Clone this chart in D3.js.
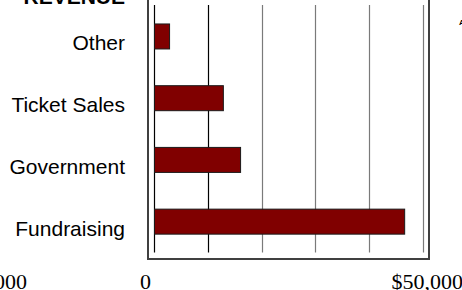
<!DOCTYPE html>
<html>
<head>
<meta charset="utf-8">
<script src="https://cdn.jsdelivr.net/npm/d3@7"></script>
<style>
  html, body { margin: 0; padding: 0; background: #fff; }
  svg { display: block; }
</style>
</head>
<body>
<svg id="chart" width="462" height="290"></svg>
<script>
// ---- data ----
const categories = ["Other", "Ticket Sales", "Government", "Fundraising"];
const values = [2800, 12800, 16000, 46500];
const tickValues = [0, 10000, 20000, 30000, 40000, 50000];
const axisLabels = ["0", "$50,000"];
const sectionTitle = "REVENUE";

const svg = d3.select("#chart");

const x = d3.scaleLinear().domain([0, 50000]).range([154, 423]);
const y = d3.scaleBand().domain(categories).range([5.6, 252.5])
  .paddingInner(0.595).paddingOuter(0.2975);

const sans = "'Liberation Sans', Arial, Helvetica, sans-serif";
const serif = "'Liberation Serif', 'Times New Roman', serif";

// frame
svg.append("rect")
  .attr("x", x.range()[0] - 6)
  .attr("y", -20)
  .attr("width", x.range()[1] - x.range()[0] + 12)
  .attr("height", 259 + 20 - 0)
  .attr("fill", "none")
  .attr("stroke", "#404040")
  .attr("stroke-width", 2);

// gridlines
svg.append("g").selectAll("line")
  .data(tickValues)
  .join("line")
  .attr("x1", d => Math.round(x(d)) + 0.5)
  .attr("x2", d => Math.round(x(d)) + 0.5)
  .attr("y1", y.range()[0] - 0.6)
  .attr("y2", y.range()[1])
  .attr("stroke", (d, i) => i < 2 ? "#000" : "#7a7a7a")
  .attr("stroke-width", 1.2);

// bars
svg.append("g").selectAll("rect")
  .data(categories.map((c, i) => ({ c, v: values[i] })))
  .join("rect")
  .attr("x", x(0) + 0.5)
  .attr("y", d => y(d.c))
  .attr("width", d => x(d.v) - x(0))
  .attr("height", y.bandwidth())
  .attr("fill", "#800000")
  .attr("stroke", "#1a1a1a")
  .attr("stroke-width", 1);

// category labels
svg.append("g").selectAll("text")
  .data(categories)
  .join("text")
  .attr("x", 125)
  .attr("y", d => y(d) + y.bandwidth() / 2 + 14)
  .attr("text-anchor", "end")
  .attr("font-family", sans)
  .attr("font-size", 21)
  .attr("fill", "#000")
  .text(d => d);

// section title (cut off at top)
svg.append("text")
  .attr("x", 125)
  .attr("y", 4)
  .attr("text-anchor", "end")
  .attr("font-family", sans)
  .attr("font-weight", "bold")
  .attr("font-size", 21)
  .text(sectionTitle);

// axis end labels
svg.append("text")
  .attr("x", x(0) - 14)
  .attr("y", 289)
  .attr("text-anchor", "start")
  .attr("font-family", serif)
  .attr("font-size", 22)
  .text(axisLabels[0]);
svg.append("text")
  .attr("x", x(50000) + 40)
  .attr("y", 289)
  .attr("text-anchor", "end")
  .attr("font-family", serif)
  .attr("font-size", 22)
  .text(axisLabels[1]);

// neighbouring chart's axis label, cut off at left edge
svg.append("text")
  .attr("x", 27)
  .attr("y", 289)
  .attr("text-anchor", "end")
  .attr("font-family", serif)
  .attr("font-size", 22)
  .text(axisLabels[1]);

// neighbouring chart's text, cut off at right edge
svg.append("text")
  .attr("x", 459)
  .attr("y", 25)
  .attr("font-family", sans)
  .attr("font-weight", "bold")
  .attr("font-size", 8)
  .text("A");
</script>
</body>
</html>
